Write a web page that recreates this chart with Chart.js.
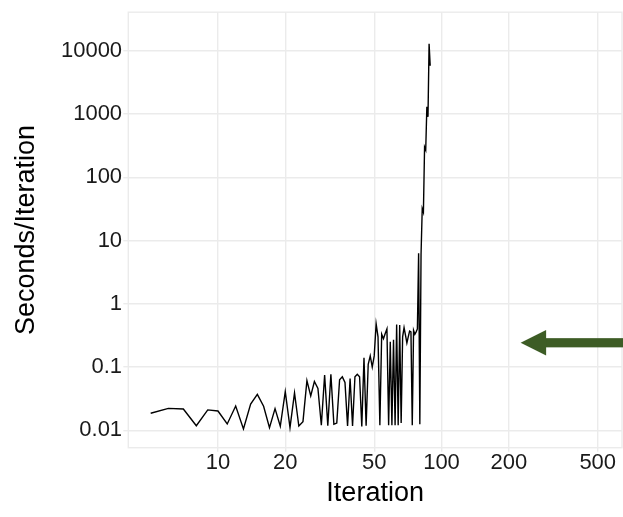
<!DOCTYPE html>
<html>
<head>
<meta charset="utf-8">
<script src="https://cdn.jsdelivr.net/npm/chart.js@4/dist/chart.umd.min.js"></script>
<style>
  html, body { margin: 0; padding: 0; background: #ffffff; }
  #wrap { width: 623px; height: 517px; }
</style>
</head>
<body>
<div id="wrap"><canvas id="chart" width="623" height="517"></canvas></div>
<script>
// Iteration number and the wall-clock time each iteration took
const iterations = [
  5, 6, 7, 8, 9, 10, 11, 12, 13, 14, 15, 16, 17, 18, 19, 20, 21, 22, 23, 24,
  25, 26, 27, 28, 29, 30, 31, 32, 33, 34, 35, 36, 37, 38, 39, 40, 41, 42, 43, 44,
  45, 46, 47, 48, 49, 50, 51, 52, 53, 54, 55, 56, 57, 58, 59, 60, 61, 62, 63, 64,
  65, 66, 67, 68, 69, 70, 71, 72, 73, 74, 75, 76, 77, 78, 79, 80, 81, 82, 83, 84,
  85, 86, 87, 88, 89
];
const secondsPerIteration = [
  0.0186, 0.0222, 0.0217, 0.0118, 0.0210, 0.0202, 0.0126, 0.0242, 0.0105, 0.026,
  0.037, 0.024, 0.011, 0.022, 0.0116, 0.041, 0.011, 0.039, 0.0117, 0.0137,
  0.061, 0.035, 0.059, 0.046, 0.012, 0.075, 0.0118, 0.077, 0.0125, 0.013,
  0.063, 0.070, 0.057, 0.0117, 0.066, 0.0117, 0.070, 0.077, 0.070, 0.0115,
  0.14, 0.0118, 0.11, 0.15, 0.10, 0.15, 0.48, 0.30, 0.012, 0.33,
  0.28, 0.34, 0.40, 0.012, 0.25, 0.012, 0.27, 0.012, 0.47, 0.012,
  0.46, 0.013, 0.30, 0.42, 0.32, 0.24, 0.30, 0.37, 0.36, 0.012,
  0.38, 0.33, 0.36, 0.40, 6.3, 0.0125, 6.0, 32, 28, 300,
  270, 1300, 900, 12900, 5800
];

// Axis ticks
const xTickValues = [10, 20, 50, 100, 200, 500];
const xTickLabels = ['10', '20', '50', '100', '200', '500'];
const yTickValues = [0.01, 0.1, 1, 10, 100, 1000, 10000];
const yTickLabels = ['0.01', '0.1', '1', '10', '100', '1000', '10000'];

// Axis extents
const xRange = [3.97, 642];
const yRange = [0.00531, 40600];

// Arrow pointing left (tail -> head), in data units
const arrowTail = [900, 0.242];
const arrowHead = [226, 0.242];

const FONT = '"Liberation Sans", Arial, Helvetica, sans-serif';
const GRID = '#ebebeb';

const points = iterations.map((x, i) => ({ x: x, y: secondsPerIteration[i] }));

function setTicks(values) {
  return function (scale) {
    scale.ticks = values.map(v => ({ value: v }));
  };
}
function labelFrom(values, labels) {
  return function (value) {
    const i = values.findIndex(v => Math.abs(v - value) / v < 1e-9);
    return i >= 0 ? labels[i] : '';
  };
}

// Panel border drawn round the plotting area
const panelBorder = {
  id: 'panelBorder',
  beforeDatasetsDraw(chart) {
    const { ctx, chartArea: a } = chart;
    ctx.save();
    ctx.strokeStyle = GRID;
    ctx.lineWidth = 1.4;
    ctx.strokeRect(a.left, a.top, a.right - a.left, a.bottom - a.top);
    ctx.restore();
  }
};

// Filled arrow annotation
const arrowNote = {
  id: 'arrowNote',
  afterDraw(chart) {
    const { ctx } = chart;
    const xs = chart.scales.x, ys = chart.scales.y;
    const x0 = xs.getPixelForValue(arrowTail[0]);
    const y0 = ys.getPixelForValue(arrowTail[1]);
    const x1 = xs.getPixelForValue(arrowHead[0]);
    const y1 = ys.getPixelForValue(arrowHead[1]);
    const headLen = 25.5, headHalf = 12.7, shaftHalf = 4.6;
    const ang = Math.atan2(y1 - y0, x1 - x0);
    ctx.save();
    ctx.translate(x1, y1);
    ctx.rotate(ang);
    ctx.fillStyle = '#3d5c25';
    const len = Math.hypot(x1 - x0, y1 - y0);
    ctx.fillRect(-len, -shaftHalf, len - headLen + 2, shaftHalf * 2);
    ctx.beginPath();
    ctx.moveTo(0, 0);
    ctx.lineTo(-headLen, -headHalf);
    ctx.lineTo(-headLen, headHalf);
    ctx.closePath();
    ctx.fill();
    ctx.restore();
  }
};

new Chart(document.getElementById('chart'), {
  type: 'line',
  data: {
    datasets: [{
      data: points,
      borderColor: '#000000',
      borderWidth: 1.4,
      pointRadius: 0,
      pointHoverRadius: 0,
      tension: 0,
      fill: false
    }]
  },
  plugins: [panelBorder, arrowNote],
  options: {
    responsive: false,
    animation: false,
    devicePixelRatio: 1,
    layout: { padding: { top: 12, right: 1, left: 0, bottom: 0 } },
    plugins: { legend: { display: false }, tooltip: { enabled: false } },
    scales: {
      x: {
        type: 'logarithmic',
        position: 'bottom',
        bounds: 'data',
        min: xRange[0],
        max: xRange[1],
        afterBuildTicks: setTicks(xTickValues),
        afterFit(scale) { scale.height = 69.3; },
        border: { display: false },
        grid: { color: GRID, lineWidth: 1.4, tickLength: 4, drawTicks: true },
        ticks: {
          autoSkip: false,
          maxRotation: 0,
          padding: 0,
          color: '#1a1a1a',
          font: { family: FONT, size: 22, lineHeight: 1 },
          callback: labelFrom(xTickValues, xTickLabels)
        },
        title: {
          display: true,
          text: 'Iteration',
          color: '#000000',
          font: { family: FONT, size: 27, lineHeight: 1.2 },
          padding: { top: 0, bottom: 6.8 }
        }
      },
      y: {
        type: 'logarithmic',
        position: 'left',
        bounds: 'data',
        min: yRange[0],
        max: yRange[1],
        afterBuildTicks: setTicks(yTickValues),
        afterFit(scale) { scale.width = 128.3; },
        border: { display: false },
        grid: { color: GRID, lineWidth: 1.4, tickLength: 5, drawTicks: true },
        ticks: {
          autoSkip: false,
          padding: 1.2,
          color: '#1a1a1a',
          font: { family: FONT, size: 22, lineHeight: 1 },
          callback: labelFrom(yTickValues, yTickLabels)
        },
        title: {
          display: true,
          text: 'Seconds/Iteration',
          color: '#000000',
          font: { family: FONT, size: 27, lineHeight: 1.2 },
          padding: { top: 10.8, bottom: 0 }
        }
      }
    }
  }
});
</script>
</body>
</html>
